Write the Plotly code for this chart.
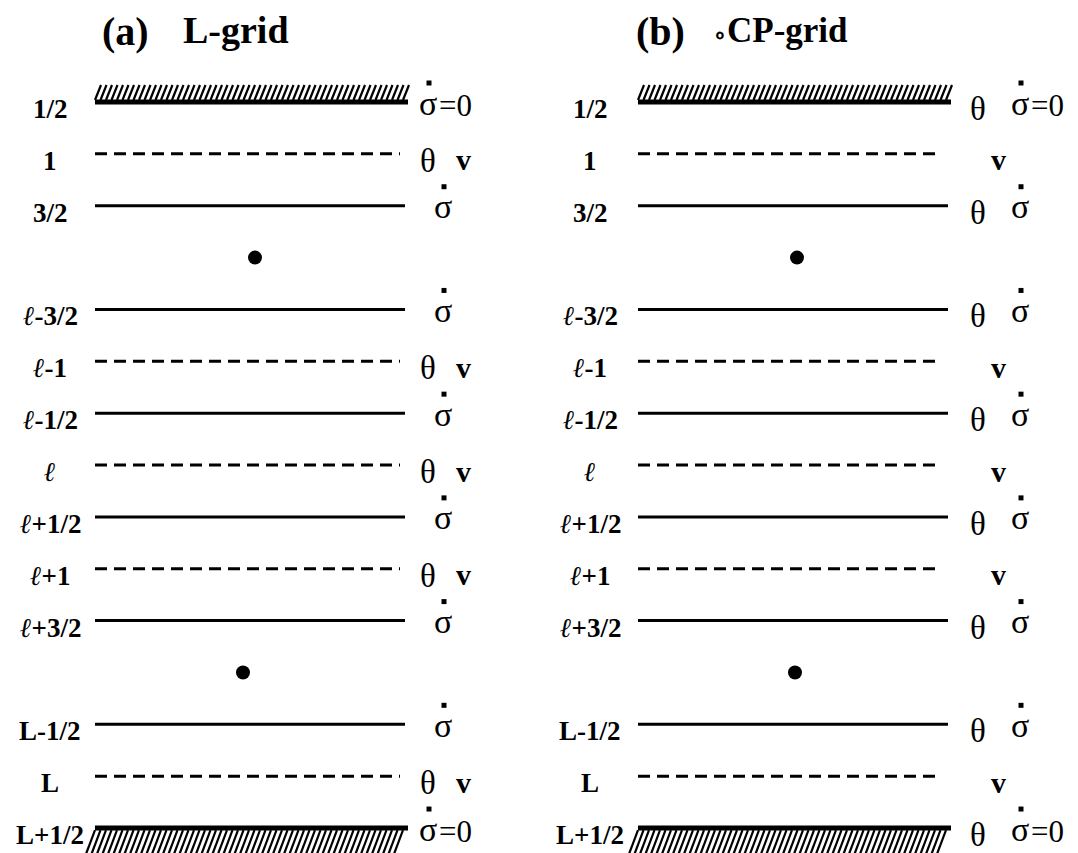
import plotly.graph_objects as go

# ---------------- data ----------------
level_labels = ["1/2", "1", "3/2", "", "<i>ℓ</i>-3/2", "<i>ℓ</i>-1", "<i>ℓ</i>-1/2", "<i>ℓ</i>",
                "<i>ℓ</i>+1/2", "<i>ℓ</i>+1", "<i>ℓ</i>+3/2", "", "L-1/2", "L", "L+1/2"]
level_kinds = ["wall", "dash", "solid", "dot", "solid", "dash", "solid", "dash",
               "solid", "dash", "solid", "dot", "solid", "dash", "wall"]
lgrid_vars = [["σ̇=0"], ["θ", "v"], ["σ̇"], [], ["σ̇"], ["θ", "v"], ["σ̇"], ["θ", "v"],
              ["σ̇"], ["θ", "v"], ["σ̇"], [], ["σ̇"], ["θ", "v"], ["σ̇=0"]]
cpgrid_vars = [["θ", "σ̇=0"], ["v"], ["θ", "σ̇"], [], ["θ", "σ̇"], ["v"], ["θ", "σ̇"], ["v"],
               ["θ", "σ̇"], ["v"], ["θ", "σ̇"], [], ["θ", "σ̇"], ["v"], ["θ", "σ̇=0"]]
panel_tags = ["(a)", "(b)"]
panel_names = ["L-grid", "<span style='font-size:22px'>∘</span>CP-grid"]

# ---------------- layout / style ----------------
W, H = 1078, 853
ROW0_PX, ROW_PX = 102.0, 51.86
y_top = -ROW0_PX / ROW_PX
y_bot = (H - ROW0_PX) / ROW_PX
PX = 1.0 / ROW_PX  # one pixel in row units

FONT = "Liberation Serif"
panels = [
    dict(x0=95, x1=405, xd1=400, lab=50, tag=125, name=236, name_size=38, dots=[255, 243],
         var_x={"θ": 428, "v": 463, "σ̇": 443, "σ̇=0": 428}, vars=lgrid_vars),
    dict(x0=638, x1=948, xd1=942, lab=590, tag=660, name=780, name_size=35, dots=[797, 795],
         var_x={"θ": 978, "v": 998, "σ̇": 1020, "σ̇=0": 1020}, vars=cpgrid_vars),
]

fig = go.Figure()
annotations = []


def hatch(x0, x1, yb, up):
    xs, ys = [], []
    h = 15 * PX if up else 24 * PX
    run = 6 if up else 9
    step = 5.5
    x = x0
    while x < x1 - 2:
        if up:
            xs += [x, x + run, None]
            ys += [yb, yb - h, None]
        else:
            xs += [x - run, x, None]
            ys += [yb + h, yb, None]
        x += step
    return xs, ys


def txt(x, y, s, size, bold=False, anchor="center"):
    annotations.append(dict(x=x, y=y, text=("<b>" + s + "</b>") if bold else s,
                            showarrow=False, xanchor=anchor, yanchor="middle",
                            font=dict(family=FONT, size=size, color="black")))


for p in panels:
    sx, sy, dx, dy, wx, wy, hx, hy, px, py, ax, ay = ([] for _ in range(12))
    dot_i = 0
    for r, kind in enumerate(level_kinds):
        if kind == "solid":
            sx += [p["x0"], p["x1"], None]
            sy += [r, r, None]
        elif kind == "dash":
            dx += [p["x0"], p["xd1"], None]
            dy += [r, r, None]
        elif kind == "wall":
            wx += [p["x0"], p["x1"] + 3, None]
            wy += [r, r, None]
            up = r == 0
            a, b = hatch(p["x0"], p["x1"] + 3, r + (-2 * PX if up else 2 * PX), up)
            hx += a
            hy += b
        elif kind == "dot":
            px.append(p["dots"][dot_i])
            py.append(r)
            dot_i += 1
        if level_labels[r]:
            txt(p["lab"], r + 7 * PX, level_labels[r], 27, bold=True)
        for v in p["vars"][r]:
            xv = p["var_x"][v]
            if v == "θ":
                txt(xv, r + 7 * PX, "θ", 33)
            elif v == "v":
                txt(xv, r + 6 * PX, "v", 30, bold=True)
            else:
                txt(xv, r + 1 * PX, "σ", 34)
                ax.append(xv + 1)
                ay.append(r - 19 * PX)
                if v.endswith("=0"):
                    txt(xv + 9, r + 3 * PX, "=0", 31, anchor="left")
    fig.add_trace(go.Scatter(x=sx, y=sy, mode="lines", line=dict(color="black", width=3)))
    fig.add_trace(go.Scatter(x=dx, y=dy, mode="lines",
                             line=dict(color="black", width=3, dash="12px,7px")))
    fig.add_trace(go.Scatter(x=wx, y=wy, mode="lines", line=dict(color="black", width=5)))
    fig.add_trace(go.Scatter(x=hx, y=hy, mode="lines", line=dict(color="black", width=2.2)))
    fig.add_trace(go.Scatter(x=px, y=py, mode="markers",
                             marker=dict(color="black", size=14, symbol="circle")))
    fig.add_trace(go.Scatter(x=ax, y=ay, mode="markers",
                             marker=dict(color="black", size=5, symbol="square")))

for i, p in enumerate(panels):
    txt(p["tag"], y_top + 31 * PX, panel_tags[i], 40, bold=True)
    txt(p["name"], y_top + 30 * PX, panel_names[i], p["name_size"], bold=True)

fig.update_layout(
    width=W, height=H, margin=dict(l=0, r=0, t=0, b=0),
    paper_bgcolor="white", plot_bgcolor="white", showlegend=False,
    xaxis=dict(range=[0, W], visible=False, fixedrange=True),
    yaxis=dict(range=[y_bot, y_top], visible=False, fixedrange=True),
    annotations=annotations,
)
fig.write_html("out.html")
